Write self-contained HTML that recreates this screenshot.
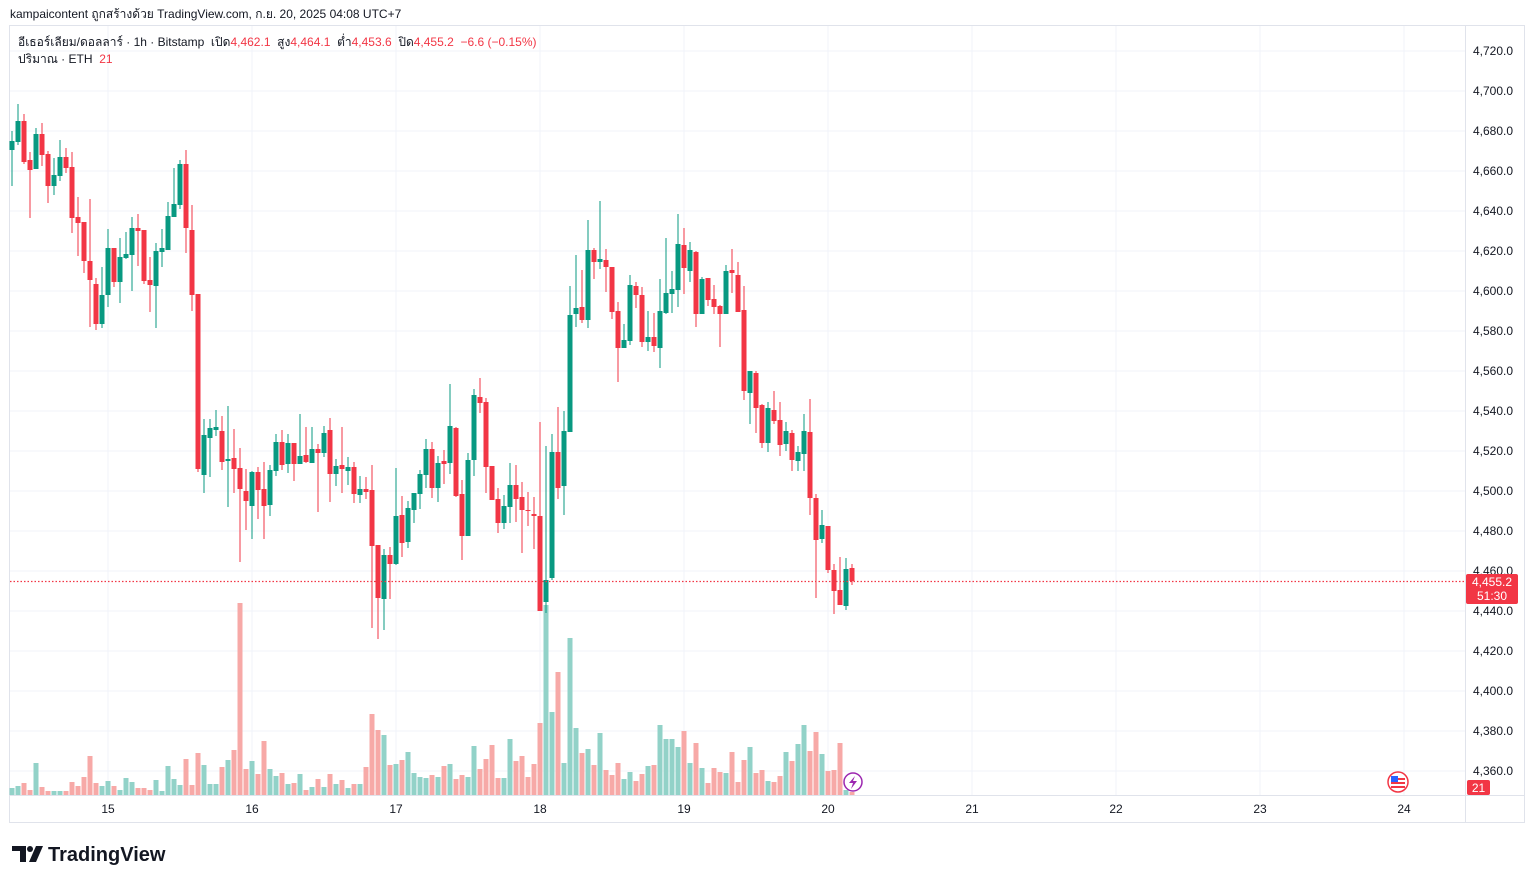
<!DOCTYPE html>
<html><head><meta charset="utf-8"><style>
body{margin:0;background:#fff;width:1534px;height:883px;overflow:hidden;font-family:"Liberation Sans","Noto Sans CJK SC",sans-serif;}
svg{position:absolute;left:0;top:0}
text{white-space:pre}
</style></head><body>
<svg id="s" width="1534" height="883" xmlns="http://www.w3.org/2000/svg" font-family="Liberation Sans, sans-serif"></svg>
<script>
const C=[[150,141,131,186],[142,121,104,145],[121,162,114,164],[160,170,152,218],[169,134,128,169],[134,155,123,166],[154,186,151,203],[186,175,158,195],[176,157,140,181],[157,168,148,173],
[167,218,152,233],[217,223,197,256],[222,261,222,273],[261,280,199,327],[284,324,278,330],[324,295,267,328],[295,248,229,307],[248,282,248,287],[282,257,238,303],[258,254,232,259],
[255,228,217,291],[228,231,214,266],[230,281,230,284],[280,285,257,312],[286,251,243,328],[252,248,229,267],[250,216,202,250],[217,204,168,217],[205,164,160,209],[164,228,150,253],
[230,295,205,311],[294,469,294,472],[475,435,419,493],[438,428,419,477],[430,427,410,436],[431,462,416,470],[461,459,406,507],[458,469,429,493],[468,489,448,562],[491,501,469,530],
[506,472,471,539],[472,490,467,519],[489,506,462,539],[505,470,465,516],[471,442,434,476],[442,465,430,470],[464,443,434,473],[443,464,443,481],[464,456,414,464],[455,462,427,463],
[463,449,427,463],[449,453,444,512],[453,433,426,457],[430,474,418,502],[474,466,459,486],[465,469,427,493],[471,467,457,485],[467,494,462,503],[495,489,476,503],[489,492,477,499],
[490,546,465,628],[545,598,545,639],[599,555,549,630],[555,564,547,599],[564,516,468,565],[515,543,496,557],[542,508,501,548],[510,493,493,523],[494,474,470,509],[475,449,439,488],
[449,488,442,498],[488,463,456,502],[461,464,450,484],[463,426,384,474],[428,496,427,497],[494,536,480,560],[536,460,453,536],[460,395,389,476],[397,403,378,413],[402,467,398,493],
[466,500,466,500],[499,523,488,533],[523,506,495,529],[507,485,463,523],[485,499,465,522],[497,510,482,553],[510,511,492,526],[514,516,497,549],[516,611,422,611],[602,580,446,613],
[578,452,434,580],[452,488,407,499],[486,431,411,515],[432,315,286,432],[314,308,255,327],[307,320,270,323],[320,250,220,328],[250,262,248,279],[262,259,201,269],[260,267,249,292],
[267,312,267,319],[311,348,302,382],[348,340,324,348],[341,285,275,345],[286,295,282,308],[295,342,287,347],[342,337,311,351],[337,346,313,352],[348,311,279,368],[313,293,238,314],
[294,289,271,313],[290,244,214,307],[245,268,228,294],[271,250,242,282],[252,314,251,327],[314,279,277,314],[278,300,278,306],[299,307,285,314],[306,314,305,347],[314,271,265,314],
[270,273,249,293],[275,312,262,312],[310,391,286,400],[393,371,371,424],[373,408,371,433],[405,443,404,448],[443,408,402,452],[410,421,391,424],[420,445,402,456],[444,431,422,451],
[433,460,430,471],[461,452,446,471],[454,431,414,471],[432,498,399,515],[498,540,494,598],[539,525,510,543],[526,570,526,573],[570,591,564,614],[590,605,557,605],[606,569,558,610],[568,581,564,585]];
const V=[7,9,12,5,32,8,4,4,4,4,13,9,18,39,12,9,14,9,5,17,13,7,7,5,15,4,29,16,10,36,10,42,30,11,11,28,35,45,192,26,34,21,54,26,19,22,11,12,21,5,8,16,8,21,11,15,7,11,11,28,81,65,60,30,31,35,43,22,18,17,20,18,29,31,16,20,18,49,26,36,50,17,17,56,34,39,18,31,72,190,83,123,32,157,67,42,46,30,62,25,20,32,16,23,14,21,29,30,70,56,56,48,64,32,52,27,12,27,23,22,43,13,35,48,22,25,14,13,19,43,34,51,70,44,63,41,24,25,52,5,3];
let h='';
for(let p=4720;p>=4360;p-=20){const y=51+(4720-p)*2;h+=`<line x1="10" y1="${y}" x2="1465" y2="${y}" stroke="#f0f3fa" stroke-width="1"/>`;
h+=`<text x="1473" y="${y+4}" font-size="12" fill="#131722">${p.toLocaleString('en-US')}.0</text>`;}
const days=['15','16','17','18','19','20','21','22','23','24'];
days.forEach((d,k)=>{const x=108+144*k;h+=`<line x1="${x}" y1="26" x2="${x}" y2="795" stroke="#f0f3fa"/>`;h+=`<text x="${x}" y="813" font-size="12" fill="#131722" text-anchor="middle">${d}</text>`;});
h+=`<rect x="9.5" y="25.5" width="1515" height="797" fill="none" stroke="#e0e3eb"/>`;
h+=`<line x1="9.5" y1="795.5" x2="1525" y2="795.5" stroke="#e0e3eb"/>`;
h+=`<line x1="1465.5" y1="26" x2="1465.5" y2="822" stroke="#e0e3eb"/>`;
V.forEach((v,i)=>{const x=12+6*i;const up=C[i][1]<C[i][0];h+=`<rect x="${x-2.5}" y="${795-v}" width="5" height="${v}" fill="${up?'#92d2c8':'#f7a9a7'}"/>`;});
C.forEach((c,i)=>{const x=12+6*i;const up=c[1]<c[0];const col=up?'#089981':'#f23645';const t=Math.min(c[0],c[1]),b=Math.max(c[0],c[1]);
h+=`<line x1="${x}" y1="${c[2]}" x2="${x}" y2="${c[3]}" stroke="${col}" stroke-width="1"/>`;
h+=`<rect x="${x-2.5}" y="${t}" width="5" height="${Math.max(1,b-t)}" fill="${col}"/>`;});
h+=`<line x1="10" y1="581.5" x2="1465" y2="581.5" stroke="#f23645" stroke-width="1.2" stroke-dasharray="1.5,2"/>`;
h+=`<rect x="1466" y="574" width="52" height="30" rx="2" fill="#f23645"/><text x="1492" y="586" font-size="12" fill="#fff" text-anchor="middle">4,455.2</text><text x="1492" y="600" font-size="12" fill="#fff" text-anchor="middle">51:30</text>`;
h+=`<rect x="1467" y="780" width="23" height="15" rx="2" fill="#f23645"/><text x="1478.5" y="792" font-size="12" fill="#fff" text-anchor="middle">21</text>`;
h+=`<circle cx="853" cy="782" r="9" fill="#fff" stroke="#9c27b0" stroke-width="1.5"/><path d="M855 776 L849 783 L853 783 L851 789 L857 781 L853 781 Z" fill="#9c27b0"/>`;
h+=`<circle cx="1398" cy="782" r="10" fill="#fff" stroke="#f23645" stroke-width="1.5"/><rect x="1391" y="778" width="14" height="2" fill="#f23645"/><rect x="1391" y="782" width="14" height="2" fill="#f23645"/><rect x="1391" y="786" width="14" height="2" fill="#f23645"/><rect x="1391" y="776" width="7" height="6" fill="#2962ff"/>`;
h+=`<text x="10" y="18" font-size="12" fill="#131722" font-family="Liberation Sans, Noto Sans CJK SC, sans-serif">kampaicontent ถูกสร้างด้วย TradingView.com, ก.ย. 20, 2025 04:08 UTC+7</text>`;
h+=`<text x="18" y="46" font-size="12" fill="#131722">อีเธอร์เลียม/ดอลลาร์ · 1h · Bitstamp  เปิด<tspan fill="#f23645">4,462.1</tspan>  สูง<tspan fill="#f23645">4,464.1</tspan>  ต่ำ<tspan fill="#f23645">4,453.6</tspan>  ปิด<tspan fill="#f23645">4,455.2  −6.6 (−0.15%)</tspan></text>`;
h+=`<text x="18" y="63" font-size="12" fill="#131722">ปริมาณ · ETH  <tspan fill="#f23645">21</tspan></text>`;
h+=`<path d="M12 846 H26 V862 H20 V851 H12 Z" fill="#131722"/><circle cx="30" cy="849" r="3" fill="#131722"/><path d="M36 846 H43 L36 862 H29 Z" fill="#131722"/>`;
h+=`<text x="48" y="861" font-size="20" font-weight="bold" fill="#131722">TradingView</text>`;
document.getElementById('s').innerHTML=h;
</script>
</body></html>
